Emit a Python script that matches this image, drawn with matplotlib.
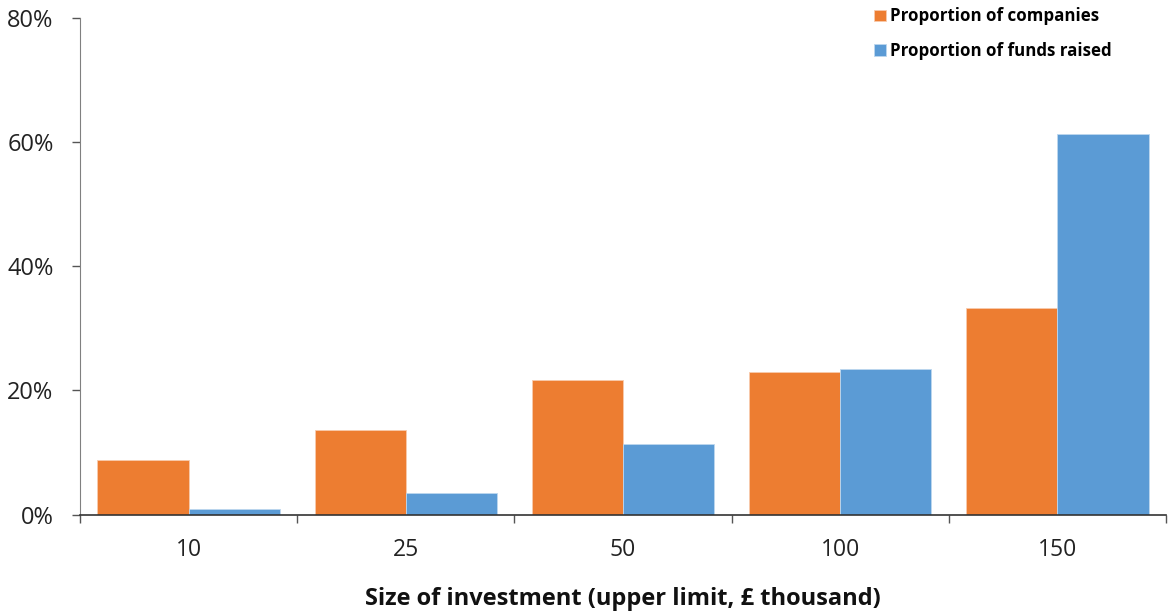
import matplotlib.pyplot as plt
import numpy as np
from matplotlib.ticker import PercentFormatter, FixedLocator

# investment size bands (upper limit, £ thousand)
categories = ["10", "25", "50", "100", "150"]
companies = [8.8, 13.6, 21.7, 23.0, 33.3]
funds = [0.9, 3.4, 11.3, 23.4, 61.3]

orange = "#ED7D31"
blue = "#5B9BD5"

plt.rcParams['font.family'] = ['Open Sans', 'DejaVu Sans']

fig = plt.figure(figsize=(11.69, 6.12), dpi=100)
ax = fig.add_axes([0.0684, 0.1593, 0.9290, 0.8113])

x = np.arange(len(categories))
w = 0.42
ax.bar(x - w / 2, companies, w, color=orange, edgecolor="#F8CBAD", linewidth=0.6,
       label="Proportion of companies")
ax.bar(x + w / 2, funds, w, color=blue, edgecolor="#BDD7EE", linewidth=0.6,
       label="Proportion of funds raised")

ax.set_xlim(-0.5, len(categories) - 0.5)
ax.set_ylim(0, 80)
ax.set_yticks([0, 20, 40, 60, 80])
ax.yaxis.set_major_formatter(PercentFormatter(decimals=0))

# labels at centres, tick marks between categories
ax.set_xticks(x)
ax.set_xticklabels(categories)
ax.xaxis.set_minor_locator(FixedLocator(np.arange(-0.5, len(categories), 1.0)))
ax.tick_params(axis="x", which="major", length=0, pad=17, labelsize=16.5, colors="#222222")
ax.tick_params(axis="x", which="minor", length=6, width=1, color="#555555")
ax.tick_params(axis="y", length=6, width=1, color="#555555", pad=13, labelsize=17,
               labelcolor="#222222")

for s in ["top", "right"]:
    ax.spines[s].set_visible(False)
ax.spines["left"].set_color("#808080")
ax.spines["bottom"].set_color("#333333")
ax.spines["bottom"].set_linewidth(1.2)

ax.set_xlabel("Size of investment (upper limit, £ thousand)", fontsize=17,
              fontweight="bold", labelpad=18, color="#111111")

leg = ax.legend(loc="upper right", bbox_to_anchor=(0.964, 1.052), frameon=False,
                handlelength=0.7, handleheight=0.7, handletextpad=0.25,
                labelspacing=0.95, prop={"size": 12.2, "weight": "bold"})

fig.savefig("out.png", dpi=100)
